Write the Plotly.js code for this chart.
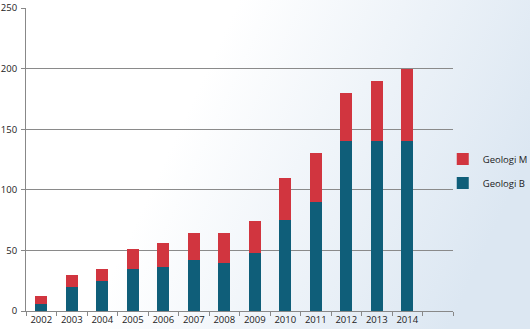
<!DOCTYPE html>
<html>
<head>
<meta charset="utf-8">
<script src="https://cdn.plot.ly/plotly-3.0.1.min.js"></script>
<style>
html,body{margin:0;padding:0;}
#chart{width:530px;height:329px;background:linear-gradient(115deg,#ffffff 35%,#dce7f2 88%);}
</style>
</head>
<body>
<div id="chart"></div>
<script>
const years = [2002,2003,2004,2005,2006,2007,2008,2009,2010,2011,2012,2013,2014];
const geologiB = [6,20,25,35,36,42,40,48,75,90,140,140,140];
const geologiMTotal = [12,30,35,51,56,64,64,74,110,130,180,190,200];
const geologiM = geologiMTotal.map((t,i)=>t-geologiB[i]);

const font = {family:'Open Sans, sans-serif', size:9.5, color:'#222'};
const traces = [
  {type:'bar', name:'Geologi B', x:years, y:geologiB, marker:{color:'#0f5e79'}, legendgroup:'b', legendrank:2},
  {type:'bar', name:'Geologi M', x:years, y:geologiM, marker:{color:'#d1353f'}, legendgroup:'m', legendrank:1}
];
const layout = {
  width:530, height:329,
  margin:{l:26, r:77, t:8, b:18, pad:0, autoexpand:false},
  paper_bgcolor:'rgba(0,0,0,0)', plot_bgcolor:'rgba(0,0,0,0)',
  barmode:'stack', bargap:0.6,
  font:font,
  showlegend:true,
  legend:{x:0.976, y:0.462, xanchor:'left', yanchor:'middle', traceorder:'grouped', tracegroupgap:5, itemwidth:30, font:font, bgcolor:'rgba(0,0,0,0)'},
  xaxis:{type:'linear', range:[2001.5,2015.5], tickvals:years, ticktext:years.map(String), ticks:'', showgrid:false,
    showline:true, linecolor:'#888', linewidth:1, zeroline:false, tickfont:font,
    minor:{ticks:'outside', tick0:2001.5, dtick:1, ticklen:4, tickcolor:'#888', showgrid:false}},
  yaxis:{range:[0,250], dtick:50, tick0:0, showgrid:true, gridcolor:'#8a8a8a', gridwidth:1, zeroline:false,
    showline:true, linecolor:'#888', linewidth:1, ticks:'outside', ticklen:4, tickcolor:'#888', tickfont:font, ticklabelstandoff:2}
};
Plotly.newPlot('chart', traces, layout, {displayModeBar:false, staticPlot:true});
</script>
</body>
</html>
